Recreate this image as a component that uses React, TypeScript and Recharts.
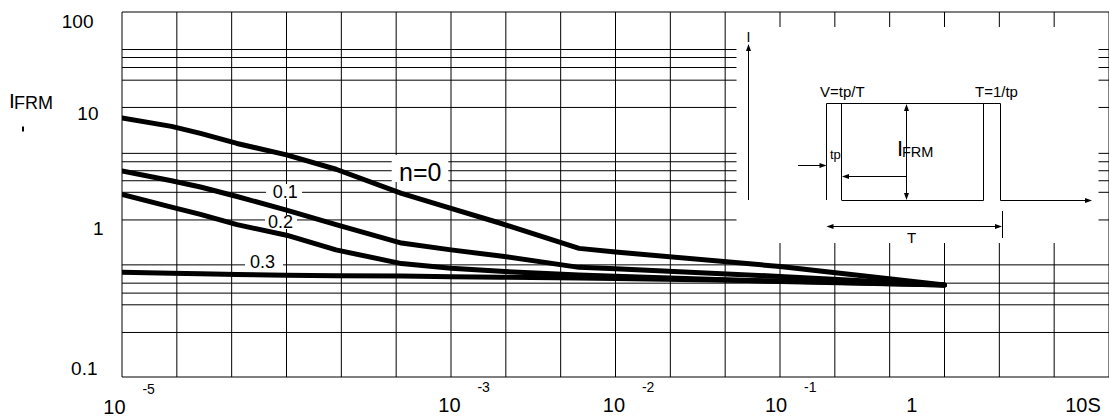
import React from 'react'
import { LineChart, Line, XAxis, YAxis, ReferenceLine } from 'recharts'

// pulse duration tp (s) and peak repetitive forward current IFRM (A) per duty cycle n
const T_VALUES = [1e-5, 2e-5, 3e-5, 5e-5, 1e-4, 2e-4, 5e-4, 1e-3, 2e-3, 6e-3, 1e-2, 0.1, 1]
const N0 = [8.9, 8.1, 7.5, 6.7, 5.8, 4.15, 1.95, 1.34, 0.95, 0.645, 0.61, 0.49, 0.39]
const N01 = [3.97, 3.0, 2.41, 1.8, 1.28, 0.93, 0.7, 0.63, 0.574, 0.485, 0.477, 0.434, 0.39]
const N02 = [1.9, 1.38, 1.15, 0.93, 0.79, 0.63, 0.51, 0.48, 0.462, 0.442, 0.435, 0.408, 0.39]
const N03 = [0.457, 0.452, 0.449, 0.445, 0.441, 0.438, 0.436, 0.433, 0.43, 0.426, 0.424, 0.411, 0.39]

const X_TICKS = [1e-5, 1e-3, 1e-2, 1e-1, 1, 10]
const X_TICK_EXP = ['-5', '-3', '-2', '-1', '', '']
const X_TICK_BASE = ['10', '10', '10', '10', '1', '10S']
const Y_TICKS = [0.1, 1, 10, 100]
const Y_TICK_LABELS = ['0.1', '1', '10', '100']

// the printed grid is not a clean log grid: minor lines and where they sit in the plot (0 = bottom, 1 = top)
const Y_GRID = [0.1, 0.2, 0.3, 0.35, 0.4, 0.5, 1, 2, 3, 4, 5, 6, 10, 20, 30, 40, 50, 100]
const Y_GRID_POS = [0, 0.122, 0.1978, 0.2298, 0.2571, 0.3072, 0.4303, 0.506, 0.5377, 0.5651, 0.5897, 0.6127, 0.7385, 0.8132, 0.8479, 0.8753, 0.8972, 1]
const X_GRID = Array.from({ length: 19 }, (_, k) => Math.pow(10, -5 + k / 3))

const FONT = 'Arial, "Liberation Sans", Helvetica, sans-serif'
const W = 1109
const H = 418

function warp(v: number) {
  const lv = Math.log10(v)
  for (let i = 0; i < Y_GRID.length - 1; i++) {
    const a = Math.log10(Y_GRID[i])
    const b = Math.log10(Y_GRID[i + 1])
    if (lv <= b || i === Y_GRID.length - 2) {
      return Y_GRID_POS[i] + ((lv - a) / (b - a)) * (Y_GRID_POS[i + 1] - Y_GRID_POS[i])
    }
  }
  return 0
}

const data = T_VALUES.map((t, i) => ({ t, n0: N0[i], n01: N01[i], n02: N02[i], n03: N03[i] }))

// label offsets copied from the printed sheet, which is not very regular
const X_LABEL_DX = [-7.6, -1.6, -1.6, -3.9, -32.7, -26]
const Y_LABEL_DY = [-9, 8.3, 5.7, 9]
const Y_LABEL_END = [97.5, 103.5, 98.5, 93.5]

function XTick(props: any) {
  const { x, payload } = props
  let idx = 0
  X_TICKS.forEach((v, i) => {
    if (Math.abs(Math.log10(v) - Math.log10(payload.value)) < 0.01) idx = i
  })
  const cx = x + X_LABEL_DX[idx]
  const base = idx === 0 ? 414 : 412
  return (
    <g>
      <text x={cx} y={base} textAnchor="middle" fontSize={20} fontFamily={FONT} fill="#000">
        {X_TICK_BASE[idx]}
      </text>
      {X_TICK_EXP[idx] && (
        <text x={cx + 28} y={base - 20.5} fontSize={14} fontFamily={FONT} fill="#000">
          {X_TICK_EXP[idx]}
        </text>
      )}
    </g>
  )
}

function YTick(props: any) {
  const { y, payload } = props
  let idx = 0
  Y_TICKS.forEach((v, i) => {
    if (Math.abs(warp(v) - payload.value) < 0.001) idx = i
  })
  return (
    <text x={Y_LABEL_END[idx]} y={y + Y_LABEL_DY[idx] + 7} textAnchor="end" fontSize={19} fontFamily={FONT} fill="#000">
      {Y_TICK_LABELS[idx]}
    </text>
  )
}

function Head({ x, y, dir }: { x: number; y: number; dir: 'up' | 'down' | 'left' | 'right' }) {
  const l = 7
  const w = 2.5
  let pts = ''
  if (dir === 'up') pts = `${x},${y} ${x - w},${y + l} ${x + w},${y + l}`
  if (dir === 'down') pts = `${x},${y} ${x - w},${y - l} ${x + w},${y - l}`
  if (dir === 'left') pts = `${x},${y} ${x + l},${y - w} ${x + l},${y + w}`
  if (dir === 'right') pts = `${x},${y} ${x - l},${y - w} ${x - l},${y + w}`
  return <polygon points={pts} fill="#000" />
}

function Overlay() {
  const ln = { stroke: '#000', strokeWidth: 1, fill: 'none' }
  return (
    <svg width={W} height={H} style={{ position: 'absolute', left: 0, top: 0 }}>
      <text x={9} y={108.3} fontSize={21} fontFamily={FONT}>I</text>
      <text x={14} y={109.3} fontSize={18} fontFamily={FONT}>FRM</text>
      <rect x={22} y={126.5} width={2} height={5} fill="#000" />

      <rect x={391.7} y={155} width={56.6} height={27} fill="#fff" />
      <text x={399} y={180.7} fontSize={25} fontFamily={FONT}>n=0</text>
      <rect x={266} y={184} width={36} height={15} fill="#fff" />
      <text x={272.7} y={197.7} fontSize={18} fontFamily={FONT}>0.1</text>
      <rect x={265} y={215} width={32} height={14} fill="#fff" />
      <text x={268} y={228.3} fontSize={18} fontFamily={FONT}>0.2</text>
      <rect x={245} y={256} width={38} height={13} fill="#fff" />
      <text x={250} y={268.3} fontSize={18} fontFamily={FONT}>0.3</text>

      {/* pulse sketch */}
      <rect x={736.5} y={27} width={362} height={216} fill="#fff" />
      <g {...ln}>
        <path d="M748.5,200 V50" />
        <path d="M826.5,200 V103.5 H1000.5 V200.5 H1086" />
        <path d="M841.5,200 V103.5 M841.5,200.5 H983.5 V103.5" />
        <path d="M906.5,110 V194" />
        <path d="M906.5,176.5 H847" />
        <path d="M798,165.5 H821" />
        <path d="M832,226.5 H996" />
        <path d="M1002.5,211 V238" />
      </g>
      <Head x={748.5} y={44} dir="up" />
      <Head x={1092} y={200.5} dir="right" />
      <Head x={906.5} y={104} dir="up" />
      <Head x={906.5} y={200} dir="down" />
      <Head x={842} y={176.5} dir="left" />
      <Head x={826.5} y={165.5} dir="right" />
      <Head x={826.5} y={226.5} dir="left" />
      <Head x={1002} y={226.5} dir="right" />
      <g fontFamily={FONT} fill="#000">
        <text x={748.5} y={41.7} fontSize={14} textAnchor="middle">I</text>
        <text x={820} y={97} fontSize={15}>V=tp/T</text>
        <text x={975} y={97} fontSize={15}>T=1/tp</text>
        <text x={830} y={159} fontSize={13}>tp</text>
        <text x={897} y={155.5} fontSize={22}>I</text>
        <text x={902} y={156.7} fontSize={14.5}>FRM</text>
        <text x={911.7} y={242.5} fontSize={15} textAnchor="middle">T</text>
      </g>
    </svg>
  )
}

export default function App() {
  const layer: React.CSSProperties = { position: 'absolute', left: 0, top: 0 }
  return (
    <div style={{ position: 'absolute', left: 0, top: 0, width: W, height: H, background: '#fff' }}>
      <div style={layer}>
        <LineChart width={W} height={H} data={data} margin={{ top: 12, right: 0, bottom: 41, left: 122 }}>
          <XAxis dataKey="t" type="number" scale="log" domain={[1e-5, 10]} allowDataOverflow hide />
          <YAxis type="number" domain={[0, 1]} allowDataOverflow hide />
          {X_GRID.map((v) => (
            <ReferenceLine key={'x' + v} x={v} stroke="#000" strokeWidth={1} ifOverflow="visible" />
          ))}
          {Y_GRID.map((v) => (
            <ReferenceLine key={'y' + v} y={warp(v)} stroke="#000" strokeWidth={1} ifOverflow="visible" />
          ))}
        </LineChart>
      </div>
      <Overlay />
      <div style={layer}>
        <LineChart width={W} height={H} data={data} margin={{ top: 12, right: 0, bottom: 0, left: 0 }}>
          <XAxis
            dataKey="t"
            type="number"
            scale="log"
            domain={[1e-5, 10]}
            allowDataOverflow
            ticks={X_TICKS}
            interval={0}
            height={41}
            axisLine={false}
            tickLine={false}
            tick={(p: any) => <XTick {...p} />}
          />
          <YAxis
            type="number"
            domain={[0, 1]}
            allowDataOverflow
            ticks={Y_TICKS.map(warp)}
            interval={0}
            width={122}
            axisLine={false}
            tickLine={false}
            tick={(p: any) => <YTick {...p} />}
          />
          {[N0, N01, N02, N03].map((_, i) => {
            const key = ['n0', 'n01', 'n02', 'n03'][i]
            return (
              <Line
                key={key}
                dataKey={(d: any) => warp(d[key])}
                type="linear"
                stroke="#000"
                strokeWidth={5}
                strokeLinecap="round"
                strokeLinejoin="round"
                dot={false}
                activeDot={false}
                isAnimationActive={false}
              />
            )
          })}
        </LineChart>
      </div>
    </div>
  )
}
